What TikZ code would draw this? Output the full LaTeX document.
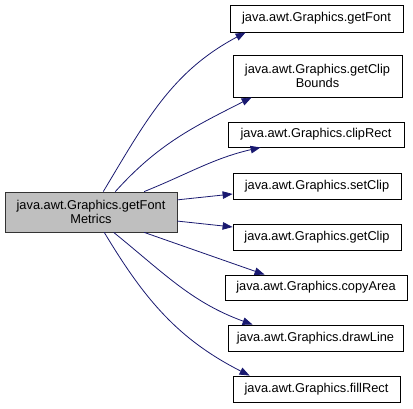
\documentclass[tikz,border=0pt]{standalone}
\usepackage{fontspec}
\setmainfont{Liberation Sans}
\usepackage{xcolor}
\usepackage{tikz}
\usetikzlibrary{arrows.meta,positioning}

\definecolor{edgeblue}{RGB}{25,25,112}
\definecolor{focusgray}{RGB}{191,191,191}

\begin{document}
\begin{tikzpicture}[x=1pt,y=1pt,>={Triangle[length=10pt,width=7.5pt]},line width=0.8pt,
  every node/.style={font=\fontsize{12.8}{13.8}\selectfont,align=center,inner sep=0pt},
  fn/.style={draw=black,fill=white,minimum height=26pt},
  call/.style={->,draw=edgeblue,line width=0.8pt}]
  \useasboundingbox (0,0) rectangle (413,408);

  % --- Caller ---
  \node[fn,fill=focusgray,draw=black!80,minimum width=172pt,minimum height=40pt] (main) at (91,196)
    {java.awt.Graphics.getFont\\Metrics};

  % --- Callees ---
  \node[fn,minimum width=173pt,minimum height=27pt] (getfont) at (316.5,389.5) {java.awt.Graphics.getFont};
  \node[fn,minimum width=169pt,minimum height=42pt] (getclipbounds) at (317.5,332) {java.awt.Graphics.getClip\\Bounds};
  \node[fn,minimum width=176pt,minimum height=25pt] (cliprect) at (316,273.5) {java.awt.Graphics.clipRect};
  \node[fn,minimum width=168pt] (setclip) at (317,222) {java.awt.Graphics.setClip};
  \node[fn,minimum width=168pt] (getclip) at (317,171) {java.awt.Graphics.getClip};
  \node[fn,minimum width=182pt,minimum height=25pt] (copyarea) at (316,120.5) {java.awt.Graphics.copyArea};
  \node[fn,minimum width=175pt] (drawline) at (315.5,70) {java.awt.Graphics.drawLine};
  \node[fn,minimum width=167pt] (fillrect) at (316.5,19) {java.awt.Graphics.fillRect};

  % --- Calls ---
  \draw[call] (main.59) to[out=59,in=208] ([xshift=16pt]getfont.south west);
  \draw[call] (main.40) to[out=48,in=207] ([xshift=19pt]getclipbounds.south west);
  \draw[call] (main.21) to[out=22,in=193] ([xshift=33pt]cliprect.south west);
  \draw[call] (main.8) -- ([yshift=-8pt]setclip.west);
  \draw[call] (main.-6) -- ([yshift=10pt]getclip.west);
  \draw[call] (main.-21) -- ([xshift=40pt]copyarea.north west);
  \draw[call] (main.-42) to[out=-39,in=160] ([xshift=25pt]drawline.north west);
  \draw[call] (main.-57) to[out=-59,in=153] ([xshift=17pt]fillrect.north west);
\end{tikzpicture}
\end{document}
